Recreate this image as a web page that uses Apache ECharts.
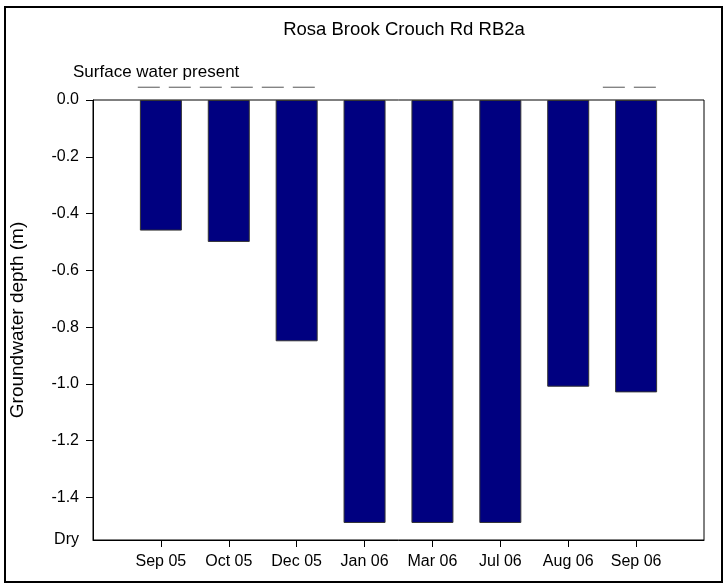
<!DOCTYPE html>
<html>
<head>
<meta charset="utf-8">
<script src="https://cdn.jsdelivr.net/npm/echarts@6/dist/echarts.min.js"></script>
<style>html,body{margin:0;padding:0;background:#fff}#c{width:728px;height:588px}</style>
</head>
<body>
<div id="c"></div>
<script>
// Data
var categories = ['Sep 05', 'Oct 05', 'Dec 05', 'Jan 06', 'Mar 06', 'Jul 06', 'Aug 06', 'Sep 06'];
var depthValues = [-0.46, -0.50, -0.85, -1.49, -1.49, -1.49, -1.01, -1.03];
var yTickValues = [0.0, -0.2, -0.4, -0.6, -0.8, -1.0, -1.2, -1.4];
var dryLevel = -1.55;
var surfaceLevel = 0.045;
var surfaceSpans = [[0.66, 3.37], [7.51, 8.31]];

var FONT = 'Liberation Sans, Arial, sans-serif';
var chart = echarts.init(document.getElementById('c'), null, {renderer: 'canvas'});

var barData = depthValues.map(function (v, i) { return [i + 1, v]; });
var xPositions = categories.map(function (c, i) { return i + 1; });

var surfaceSeries = surfaceSpans.map(function (s) {
  return {
    type: 'line',
    data: [[s[0], surfaceLevel], [s[1], surfaceLevel]],
    symbol: 'none',
    clip: false,
    silent: true,
    animation: false,
    lineStyle: {color: '#555', width: 1, type: [22, 9]}
  };
});

chart.setOption({
  animation: false,
  backgroundColor: '#fff',
  title: [{
    text: 'Rosa Brook Crouch Rd RB2a',
    left: 399, top: 15, textAlign: 'center',
    textStyle: {fontFamily: FONT, fontSize: 18.5, fontWeight: 'normal', color: '#000'}
  }, {
    text: 'Surface water present',
    left: 68, top: 59,
    textStyle: {fontFamily: FONT, fontSize: 17, fontWeight: 'normal', color: '#000'}
  }],
  graphic: [{
    type: 'rect',
    shape: {x: 5, y: 7, width: 717, height: 575},
    style: {fill: null, stroke: '#000', lineWidth: 2},
    silent: true
  }],
  grid: {left: 93, right: 24, top: 100, bottom: 48, show: true, borderColor: '#000', borderWidth: 1},
  xAxis: {
    type: 'value', min: 0, max: categories.length + 1, interval: 1,
    splitLine: {show: false},
    axisLine: {show: true, onZero: false, lineStyle: {color: '#000', width: 1}},
    axisTick: {show: true, customValues: xPositions, length: 7, lineStyle: {color: '#000'}},
    axisLabel: {
      customValues: xPositions, margin: 14,
      fontFamily: FONT, fontSize: 16, color: '#000',
      formatter: function (v) { return categories[Math.round(v) - 1] || ''; }
    }
  },
  yAxis: {
    type: 'value', min: dryLevel, max: 0,
    name: 'Groundwater depth (m)', nameLocation: 'middle', nameGap: 66,
    nameTextStyle: {fontFamily: FONT, fontSize: 19, color: '#000'},
    splitLine: {show: false},
    axisLine: {show: true, onZero: false, lineStyle: {color: '#000', width: 1}},
    axisTick: {show: true, customValues: yTickValues, length: 7, lineStyle: {color: '#000'}},
    axisLabel: {
      customValues: yTickValues.concat([dryLevel]), margin: 14,
      fontFamily: FONT, fontSize: 16, color: '#000',
      formatter: function (v) { return Math.abs(v - dryLevel) < 1e-9 ? 'Dry' : v.toFixed(1); }
    }
  },
  series: [{
    type: 'bar',
    data: barData,
    barWidth: 42,
    itemStyle: {color: '#000080', borderColor: '#333', borderWidth: 1},
    silent: true
  }].concat(surfaceSeries)
});
</script>
</body>
</html>
